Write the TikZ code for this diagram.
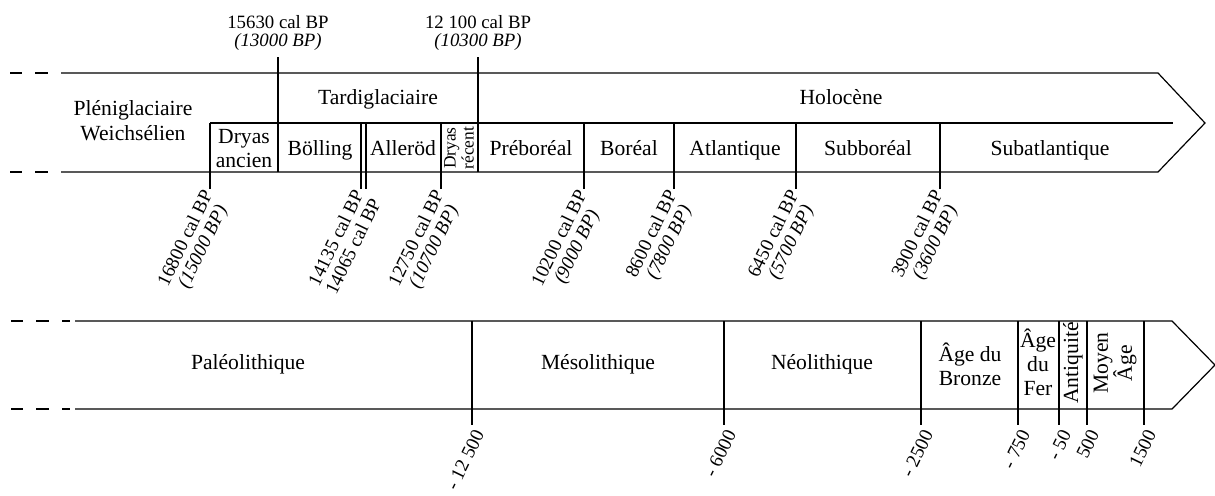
\documentclass[tikz,border=0pt]{standalone}
\usepackage{fontspec}
\setmainfont{Liberation Serif}
\begin{document}
\begin{tikzpicture}[x=0.5pt,y=-0.5pt,line width=0.6pt,
  period/.style={align=center,inner sep=0pt,font=\fontsize{10.8}{12}\selectfont},
  upright/.style={period,rotate=90},
  datetop/.style={align=center,inner sep=0pt,font=\fontsize{9.4}{9}\selectfont},
  date/.style={align=center,inner sep=1pt,rotate=64,anchor=north east,font=\fontsize{9.6}{9.6}\selectfont},
  datecal/.style={shift={(-10,-4)},date}]
\useasboundingbox (0,0) rectangle (1215,495);

% Climatic periods
\draw (10,73) -- (22,73) (35,73) -- (48,73);
\draw (10,172) -- (22,172) (35,172) -- (48,172);
\draw (61,73) -- (1158,73) -- (1205,123) -- (1158,172) -- (61,172);
\draw (210,123) -- (1173,123);
\draw (278,57) -- (278,172);
\draw (478,57) -- (478,172);
\node[datetop,anchor=south] (c15630) at (278,51) {15630 cal BP\\\textit{(13000 BP)}};
\node[datetop,anchor=south] (c12100) at (478,51) {12 100 cal BP\\\textit{(10300 BP)}};

\coordinate (t16800) at (210,189);
\coordinate (t14135) at (361,189);
\coordinate (t14065) at (366,189);
\coordinate (t12750) at (441,189);
\coordinate (t10200) at (584,189);
\coordinate (t8600) at (674,189);
\coordinate (t6450) at (796,189);
\coordinate (t3900) at (940,189);
\foreach \t in {16800,14135,14065,12750,10200,8600,6450,3900}
  \draw (t\t |- 0,123) -- (t\t);
\node[datecal] (d16800) at (t16800) {16800 cal BP\\\textit{(15000 BP)}};
\node[datecal] (d14135) at (t14135) {14135 cal BP\\14065 cal BP};
\node[datecal] (d12750) at (t12750) {12750 cal BP\\\textit{(10700 BP)}};
\node[datecal] (d10200) at (t10200) {10200 cal BP\\\textit{(9000 BP)}};
\node[datecal] (d8600) at (t8600) {8600 cal BP\\\textit{(7800 BP)}};
\node[datecal] (d6450) at (t6450) {6450 cal BP\\\textit{(5700 BP)}};
\node[datecal] (d3900) at (t3900) {3900 cal BP\\\textit{(3600 BP)}};

\node[period,font=\fontsize{10.8}{12.5}\selectfont] (plen) at (133,121) {Pléniglaciaire\\Weichsélien};
\node[period,anchor=base] (tard) at (378,104) {Tardiglaciaire};
\node[period,anchor=base] (holo) at (841,104) {Holocène};
\node[period] (dryasA) at (244,149) {Dryas\\ancien};
\node[period,anchor=base] (boll) at (320,155) {Bölling};
\node[period,anchor=base] (alle) at (403,155) {Alleröd};
\node[upright,font=\fontsize{8.7}{7.4}\selectfont] (dryasR) at (459,148) {Dryas\\récent};
\node[period,anchor=base] (prebo) at (531,155) {Préboréal};
\node[period,anchor=base] (borea) at (629,155) {Boréal};
\node[period,anchor=base] (atlan) at (735,155) {Atlantique};
\node[period,anchor=base] (subbo) at (868,155) {Subboréal};
\node[period,anchor=base] (subat) at (1050,155) {Subatlantique};

% Cultural periods
\draw (11,321) -- (23,321) (36,321) -- (49,321) (62,321) -- (70,321);
\draw (11,409) -- (23,409) (36,409) -- (49,409) (62,409) -- (70,409);
\draw (75,321) -- (1172,321) -- (1215,365) -- (1172,409) -- (75,409);

\coordinate (y12500) at (472,425);
\coordinate (y6000) at (724,425);
\coordinate (y2500) at (921,425);
\coordinate (y750) at (1018,425);
\coordinate (y50) at (1059,425);
\coordinate (y500) at (1087,425);
\coordinate (y1500) at (1144,425);
\foreach \t in {12500,6000,2500,750,50,500,1500}
  \draw (y\t |- 0,321) -- (y\t);
\node[date] (l12500) at (y12500) {- 12 500};
\node[date] (l6000) at (y6000) {- 6000};
\node[date] (l2500) at (y2500) {- 2500};
\node[date] (l750) at (y750) {- 750};
\node[date] (l50) at (y50) {- 50};
\node[date] (l500) at (y500) {500};
\node[date] (l1500) at (y1500) {1500};

\node[period,anchor=base] (paleo) at (248,369) {Paléolithique};
\node[period,anchor=base] (meso) at (598,369) {Mésolithique};
\node[period,anchor=base] (neo) at (822,369) {Néolithique};
\node[period] (bronze) at (970,364) {Âge du\\Bronze};
\node[period] (fer) at (1038,362) {Âge\\du\\Fer};
\node[upright] (anti) at (1073,363) {Antiquité};
\node[upright] (moyen) at (1115,363) {Moyen\\Âge};
\end{tikzpicture}
\end{document}
